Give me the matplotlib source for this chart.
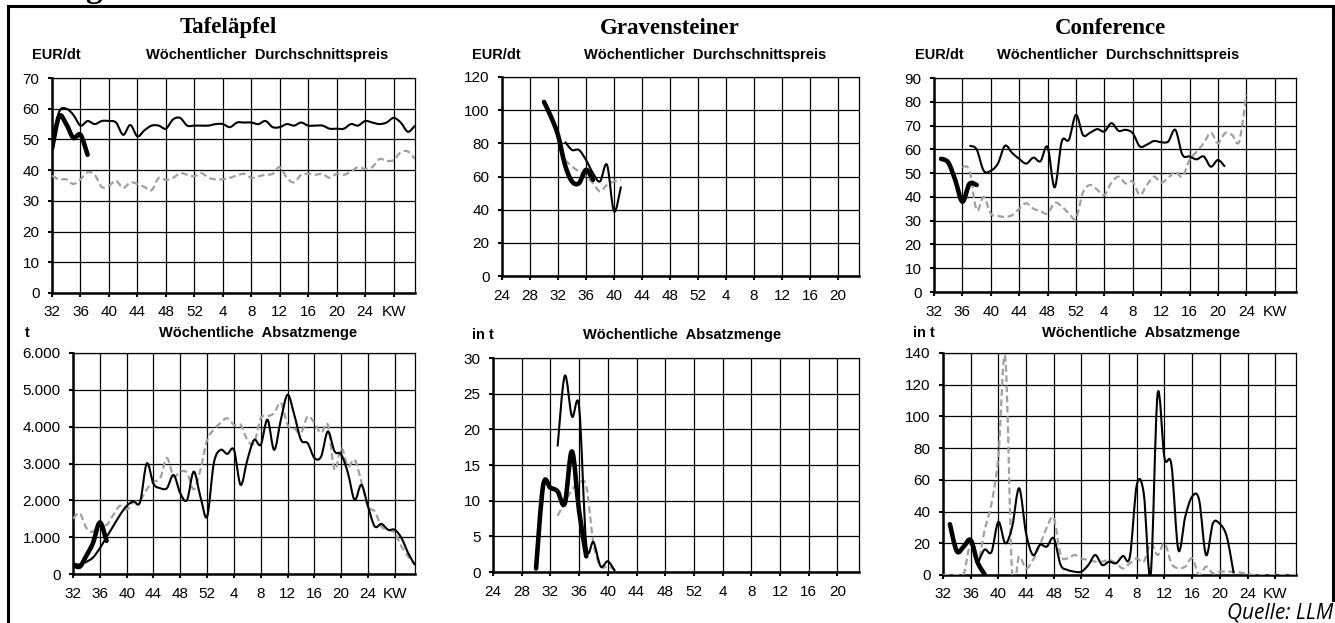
import matplotlib
matplotlib.use("Agg")
import matplotlib.pyplot as plt
import numpy as np
from matplotlib.lines import Line2D
from matplotlib.path import Path
from matplotlib.patches import PathPatch

W, H = 1335, 623

# ---- data (weekly values) ----
# Tafeläpfel, season from KW 32
tafel_kw_full = [(32 + i - 1) % 52 + 1 for i in range(52)]
tafel_price_prev = [49, 59, 60, 58, 54.5, 56, 55, 56, 56, 55.5, 51.5, 54.7, 51, 53, 54.5, 54.5,
                    53.5, 56.5, 57, 54.5, 54.5, 54.5, 54.5, 55, 55, 54, 55.5, 55.5, 55.5, 55, 56, 54,
                    54, 55, 54.5, 55.5, 54.5, 54.5, 54.5, 53.5, 53.5, 53.5, 55, 54.5, 56, 55.5, 55,
                    55.5, 57, 55.5, 52.5, 54.5]
tafel_price_avg = [38.2, 37, 37, 35.5, 37, 39.3, 38.5, 34.5, 35, 36.5, 34.2, 36, 35.5, 34.5, 33.5,
                   37.5, 36.8, 37.5, 39, 38.5, 38, 39, 37.5, 37, 37, 37.5, 38.3, 38.8, 37.5, 38, 38.5,
                   38.8, 41, 37.5, 36, 38.5, 38.8, 38.5, 38.8, 37.5, 38.8, 38.5, 39.5, 41, 40.4, 41,
                   43.6, 43, 43.3, 45.8, 46.1, 43.6]
tafel_kw_cur = [32, 33, 34, 35, 36, 37]
tafel_price_cur = [47, 57.5, 55, 50.5, 51.5, 45]

tafel_qty_prev = [280, 260, 330, 450, 700, 1000, 1300, 1600, 1850, 1970, 1950, 3000, 2450, 2330,
                  2330, 2690, 2190, 2010, 2780, 2100, 1560, 3010, 3370, 3260, 3370, 2420, 3100, 3640,
                  3510, 4190, 3370, 4190, 4870, 4320, 3640, 3550, 3150, 3190, 3870, 3330, 3240, 2740,
                  2010, 2420, 1830, 1290, 1360, 1200, 1200, 970, 560, 245]
tafel_qty_avg = [1500, 1650, 1250, 1150, 1400, 1330, 1600, 1850, 1750, 1950, 2000, 2300, 2500, 2600,
                 3150, 2650, 2780, 2750, 2300, 2830, 3640, 3920, 4100, 4230, 4050, 4050, 3640, 3550,
                 4230, 4280, 4370, 4650, 4050, 3950, 3830, 4280, 4100, 3830, 4050, 2830, 3420, 2920,
                 3100, 2510, 1830, 1700, 1290, 1200, 1110, 740, 470, 245]
tafel_qty_cur = [260, 200, 500, 850, 1400, 900]

# Gravensteiner, axis from KW 24
grav_kw_cur = [30, 31, 32, 33, 34, 35, 36, 37]
grav_price_cur = [105, 96, 85, 67, 57, 56, 64, 58]
grav_qty_cur = [0.5, 12.2, 11.8, 11.3, 9.6, 16.9, 8.5, 2.2]
grav_kw_prev = [33, 34, 35, 36, 37, 38, 39, 40, 41]
grav_price_prev = [81, 76, 76, 70, 62, 57, 67, 39, 54]
grav_price_avg = [70, 66, 63, 60, 56, 51, 55, 57, 58]
grav_qty_prev = [17.6, 27.5, 21.8, 23.1, 3.8, 4.2, 0.8, 1.5, 0.1]
grav_qty_avg = [7.9, 9.7, 11.5, 12.5, 12, 4, 0.8, 0.8, 0.3]

# Conference, axis from KW 32
conf_kw_cur_price = [33, 34, 35, 36, 37, 38]
conf_price_cur = [56, 54.5, 47, 38, 45.5, 45]
conf_kw_prev_price = [(37 + i - 1) % 52 + 1 for i in range(37)]
conf_price_prev = [61.5, 60, 51, 51, 54, 61.5, 58.5, 56, 54, 56.5, 55, 61, 44, 63.3, 64, 74.5, 66,
                   67, 68.5, 67.5, 71, 67.8, 68.2, 66.8, 61.2, 62, 63.5, 63, 63.3, 68.2, 57.7, 57,
                   55.8, 57, 52.7, 55.5, 52.7]
conf_kw_avg_price = [(36 + i - 1) % 52 + 1 for i in range(41)]
conf_price_avg = [52.7, 51, 34.5, 40, 33, 32, 31.6, 32.3, 35, 37.3, 35, 34, 33, 37.5, 36, 33, 31, 42,
                  45, 43, 40.8, 46, 48.5, 45.7, 46.4, 40.8, 45, 48.5, 46, 48, 50.6, 48.5, 55.5, 59,
                  62.6, 67, 62.6, 66.8, 66, 63.3, 83]
conf_kw_cur_qty = [33, 34, 35, 36, 37, 38]
conf_qty_cur = [32, 15, 18, 22, 8, 0.5]
conf_kw_prev_qty = [(37 + i - 1) % 52 + 1 for i in range(38)]
conf_qty_prev = [7, 16, 14.5, 33.5, 20, 30.5, 54.7, 26.3, 12.6, 19, 17.9, 23.2, 6.3, 3.2, 2.1, 2.1,
                 6.3, 12.6, 6.3, 8.4, 7.4, 12, 11.6, 56.8, 51.6, 0, 114, 73.7, 69.5, 15.8, 36.8,
                 49.5, 47.4, 12.6, 32.6, 32.2, 24.2, 1]
conf_qty_avg = [0, 0, 0, 1, 20, 7.4, 28, 45, 74.7, 137, 0, 11.6, 4.2, 9.5, 19, 30, 36, 12.6, 10.5,
                12.6, 10.5, 9.5, 8.4, 8.4, 9.5, 7.4, 4.2, 7.4, 10.5, 8.4, 20, 12.6, 20, 7.4, 4.2, 5.3,
                10.5, 0, 5.3, 1, 2.1, 2.1, 2, 1.5, 0.6, 0, 0, 0, 0, 0, 0, 0]

labels_32 = ['32', '36', '40', '44', '48', '52', '4', '8', '12', '16', '20', '24', 'KW']
labels_24 = ['24', '28', '32', '36', '40', '44', '48', '52', '4', '8', '12', '16', '20']

tick_font = 'Liberation Sans'
tick_size = 11


def pos(kws, first):
    return np.array([(k - first) % 52 for k in kws])


def make_axes(fig, x0, y0, x1, y1):
    return fig.add_axes([x0 / W, 1 - y1 / H, (x1 - x0) / W, (y1 - y0) / H])


def setup(ax, xlabels, ymax, ystep, thousands=False):
    ax.set_xlim(0, 51)
    ax.set_ylim(0, ymax)
    xt = np.arange(0, 4 * len(xlabels), 4)
    ax.set_xticks(xt)
    ax.set_xticklabels(xlabels, fontsize=tick_size, family=tick_font)
    yt = np.arange(0, ymax + 1, ystep)
    ax.set_yticks(yt)
    if thousands:
        ylab = ['0' if v == 0 else '{:,}'.format(int(v)).replace(',', '.') for v in yt]
    else:
        ylab = [str(int(v)) for v in yt]
    ax.set_yticklabels(ylab, fontsize=tick_size, family=tick_font)
    ax.grid(True, color='black', linewidth=0.9)
    ax.set_axisbelow(True)
    ax.tick_params(direction='out', length=3, width=1.5, pad=6, color='black')
    for s in ['left', 'bottom']:
        ax.spines[s].set_linewidth(1.8)
    for s in ['top', 'right']:
        ax.spines[s].set_linewidth(0.9)


# Excel-like "smoothed line": cubic Bezier segments through the weekly points
def smooth(ax, x, y, **kw):
    pts = np.column_stack([x, y]).astype(float)
    n = len(pts)
    verts = [pts[0]]
    codes = [Path.MOVETO]
    for i in range(n - 1):
        p0 = pts[max(i - 1, 0)]
        p1 = pts[i]
        p2 = pts[i + 1]
        p3 = pts[min(i + 2, n - 1)]
        verts += [p1 + (p2 - p0) / 6, p2 - (p3 - p1) / 6, p2]
        codes += [Path.CURVE4] * 3
    ax.add_patch(PathPatch(Path(verts, codes), fill=False, **kw))


def draw(ax, x_cur, cur, x_prev, prev, x_avg, avg):
    smooth(ax, x_avg, avg, edgecolor='#a0a0a0', lw=1.6, linestyle=(0, (3, 1.6)), zorder=3)
    smooth(ax, x_prev, prev, edgecolor='black', lw=1.5, zorder=4, joinstyle='round')
    smooth(ax, x_cur, cur, edgecolor='black', lw=3.3, zorder=5, joinstyle='round',
           capstyle='round')


fig = plt.figure(figsize=(W / 100, H / 100), dpi=100)


def ftext(x, y, s, **kw):
    fig.text(x / W, 1 - y / H, s, **kw)


# top row: prices
ax1 = make_axes(fig, 52, 78, 415, 293)
setup(ax1, labels_32, 70, 10)
draw(ax1, pos(tafel_kw_cur, 32), tafel_price_cur, pos(tafel_kw_full, 32), tafel_price_prev,
     pos(tafel_kw_full, 32), tafel_price_avg)

ax2 = make_axes(fig, 502, 77, 859, 276)
setup(ax2, labels_24, 120, 20)
draw(ax2, pos(grav_kw_cur, 24), grav_price_cur, pos(grav_kw_prev, 24), grav_price_prev,
     pos(grav_kw_prev, 24), grav_price_avg)

ax3 = make_axes(fig, 934, 78, 1296, 292)
setup(ax3, labels_32, 90, 10)
draw(ax3, pos(conf_kw_cur_price, 32), conf_price_cur, pos(conf_kw_prev_price, 32), conf_price_prev,
     pos(conf_kw_avg_price, 32), conf_price_avg)

# bottom row: quantities
ax4 = make_axes(fig, 73, 353, 415, 574)
setup(ax4, labels_32, 6000, 1000, thousands=True)
draw(ax4, pos(tafel_kw_cur, 32), tafel_qty_cur, pos(tafel_kw_full, 32), tafel_qty_prev,
     pos(tafel_kw_full, 32), tafel_qty_avg)

ax5 = make_axes(fig, 493, 358, 859, 572)
setup(ax5, labels_24, 30, 5)
draw(ax5, pos(grav_kw_cur, 24), grav_qty_cur, pos(grav_kw_prev, 24), grav_qty_prev,
     pos(grav_kw_prev, 24), grav_qty_avg)

ax6 = make_axes(fig, 943, 353, 1296, 575)
setup(ax6, labels_32, 140, 20)
draw(ax6, pos(conf_kw_cur_qty, 32), conf_qty_cur, pos(conf_kw_prev_qty, 32), conf_qty_prev,
     pos(tafel_kw_full, 32), conf_qty_avg)

# titles and labels
title_kw = dict(fontsize=16.5, fontweight='bold', family='Liberation Serif', ha='center', va='center')
ftext(228, 28, 'Tafeläpfel', **title_kw)
ftext(670, 28, 'Gravensteiner', **title_kw)
ftext(1110, 28, 'Conference', **title_kw)

lab_kw = dict(fontsize=10.5, fontweight='bold', family='Liberation Sans', va='center')
ftext(32, 55, 'EUR/dt', ha='left', **lab_kw)
ftext(472, 55, 'EUR/dt', ha='left', **lab_kw)
ftext(915, 55, 'EUR/dt', ha='left', **lab_kw)
ftext(267, 55, 'Wöchentlicher  Durchschnittspreis', ha='center', **lab_kw)
ftext(705, 55, 'Wöchentlicher  Durchschnittspreis', ha='center', **lab_kw)
ftext(1118, 55, 'Wöchentlicher  Durchschnittspreis', ha='center', **lab_kw)

ftext(25, 333, 't', ha='left', **lab_kw)
ftext(472, 335, 'in t', ha='left', **lab_kw)
ftext(913, 333, 'in t', ha='left', **lab_kw)
ftext(258, 333, 'Wöchentliche  Absatzmenge', ha='center', **lab_kw)
ftext(682, 335, 'Wöchentliche  Absatzmenge', ha='center', **lab_kw)
ftext(1141, 333, 'Wöchentliche  Absatzmenge', ha='center', **lab_kw)

ftext(1333, 613, 'Quelle: LLM', ha='right', va='center', fontsize=15, style='italic',
      family='Open Sans')

# cut-off heading fragment at the very top
ftext(85, -3, 'g', ha='left', va='baseline', fontsize=24, fontweight='bold', family='Liberation Serif')

# frame
lw = 2.2
fig.add_artist(Line2D([8 / W, 8 / W], [0, 1 - 6 / H], transform=fig.transFigure, color='black', lw=lw))
fig.add_artist(Line2D([8 / W, 1333 / W], [1 - 6 / H, 1 - 6 / H], transform=fig.transFigure,
                      color='black', lw=lw))
fig.add_artist(Line2D([1333 / W, 1333 / W], [1 - 6 / H, 1 - 600 / H], transform=fig.transFigure,
                      color='black', lw=lw))

fig.savefig('out.png', dpi=100)
